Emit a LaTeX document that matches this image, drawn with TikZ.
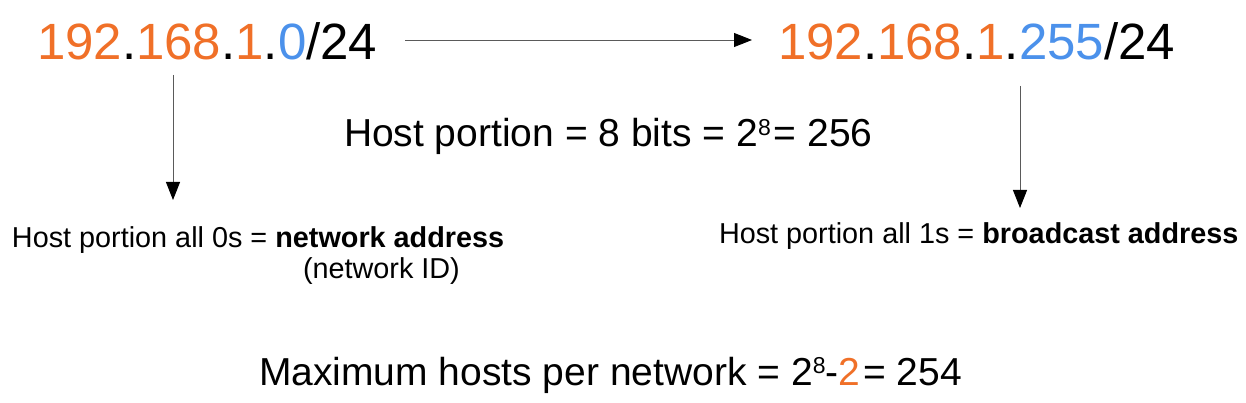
\documentclass[tikz,border=0pt]{standalone}
\usepackage{fontspec}
\setmainfont{Liberation Sans}
\usetikzlibrary{arrows.meta}
\definecolor{ipor}{RGB}{240,112,40}
\definecolor{ipbl}{RGB}{75,145,235}
\definecolor{lngray}{RGB}{90,90,90}
\newcommand\mysup[1]{\raisebox{0.3em}{\fontsize{23}{23}\selectfont #1}}
\tikzset{
  txt/.style={anchor=base west, inner sep=0pt, outer sep=0pt},
  big/.style={txt, font=\fontsize{51}{60}\selectfont},
  mid/.style={txt, font=\fontsize{39}{46}\selectfont},
  small/.style={txt, font=\fontsize{28.8}{34}\selectfont},
  conn/.style={draw=lngray, line width=0.9pt, -{Triangle[length=18pt,width=14pt,color=black,fill=black]}}
}
\begin{document}
\begin{tikzpicture}[x=1pt,y=1pt]
\useasboundingbox (0,0) rectangle (1246,402);
\node[big] (ipL) at (37,342) {\textcolor{ipor}{192}.\textcolor{ipor}{168}.\textcolor{ipor}{1}.\textcolor{ipbl}{0}/24};
\node[big] (ipR) at (778,342) {\textcolor{ipor}{192}.\textcolor{ipor}{168}.\textcolor{ipor}{1}.\textcolor{ipbl}{255}/24};
\node[mid] (host) at (344,255) {Host portion = 8 bits = 2\mysup{8}\kern3pt= 256};
\node[small] (netL) at (12,155) {Host portion all 0s = \textbf{network address}};
\node[small] (netID) at (303,124) {(network ID)};
\node[small] (bcR) at (719,159) {Host portion all 1s = \textbf{broadcast address}};
\node[mid] (maxh) at (259,17) {Maximum hosts per network = 2\mysup{8}-\textcolor{ipor}{2}\kern3pt= 254};
\coordinate (hS) at (405,362);
\coordinate (hE) at (752,362);
\coordinate (lS) at (173,327);
\coordinate (lE) at (173,202);
\coordinate (rS) at (1020,316);
\coordinate (rE) at (1020,194);
\draw[conn] (hS) -- (hE);
\draw[conn] (lS) -- (lE);
\draw[conn] (rS) -- (rE);
\end{tikzpicture}
\end{document}
